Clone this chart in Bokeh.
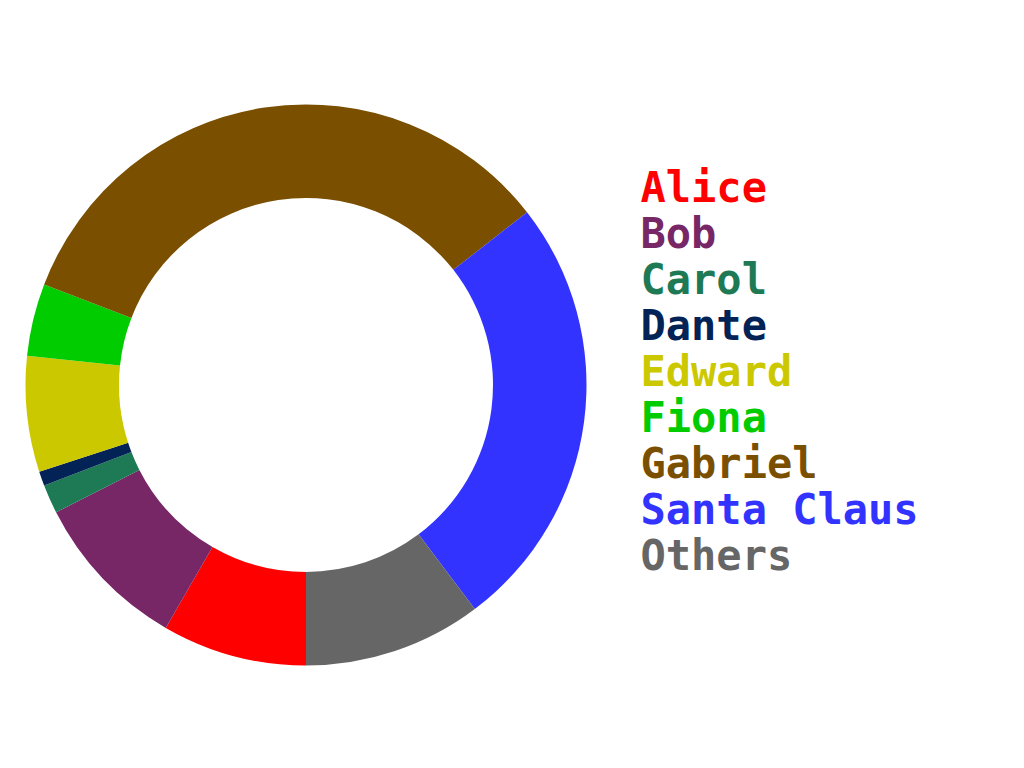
import numpy as np
from bokeh.plotting import figure
from bokeh.models import ColumnDataSource, Range1d, InlineStyleSheet
from bokeh.core.properties import value
from bokeh.embed import file_html
from bokeh.resources import INLINE

# Data
names = ["Alice", "Bob", "Carol", "Dante", "Edward", "Fiona", "Gabriel", "Santa Claus", "Others"]
values = [30, 33, 6, 3, 24, 15, 121, 91, 37]
colors = ["#FF0000", "#772766", "#1E7A55", "#032357", "#CCC800", "#00CC00", "#7A5000", "#3333FF", "#666666"]

W, H = 1024, 768
css = InlineStyleSheet(css="text { letter-spacing: 8.7px; }")
p = figure(width=W, height=H, output_backend="svg", toolbar_location=None,
           x_range=Range1d(0, W), y_range=Range1d(0, H),
           min_border=0, outline_line_color=None, background_fill_color="white",
           stylesheets=[css])
p.axis.visible = False
p.grid.visible = False

vals = np.array(values, dtype=float)
frac = vals / vals.sum()
cum = np.concatenate([[0], np.cumsum(frac)])
start = -np.pi / 2 - 2 * np.pi * cum[:-1]
end = -np.pi / 2 - 2 * np.pi * cum[1:]

src = ColumnDataSource(dict(start=start, end=end, color=colors, name=names))
cx, cy = 305.5, H - 384.5
p.annular_wedge(x=cx, y=cy, inner_radius=187, outer_radius=280.5,
                start_angle="start", end_angle="end", direction="clock",
                fill_color="color", line_color=None, source=src)

ly = [H - (187 + 46 * i) for i in range(len(names))]
lsrc = ColumnDataSource(dict(x=[640] * len(names), y=ly, text=names, color=colors))
p.text(x="x", y="y", text="text", text_color="color", source=lsrc,
       text_font=value("DejaVu Sans Mono"), text_font_style="bold",
       text_font_size="42px", text_baseline="alphabetic", text_align="left")

open("out.html", "w").write(file_html(p, INLINE))
